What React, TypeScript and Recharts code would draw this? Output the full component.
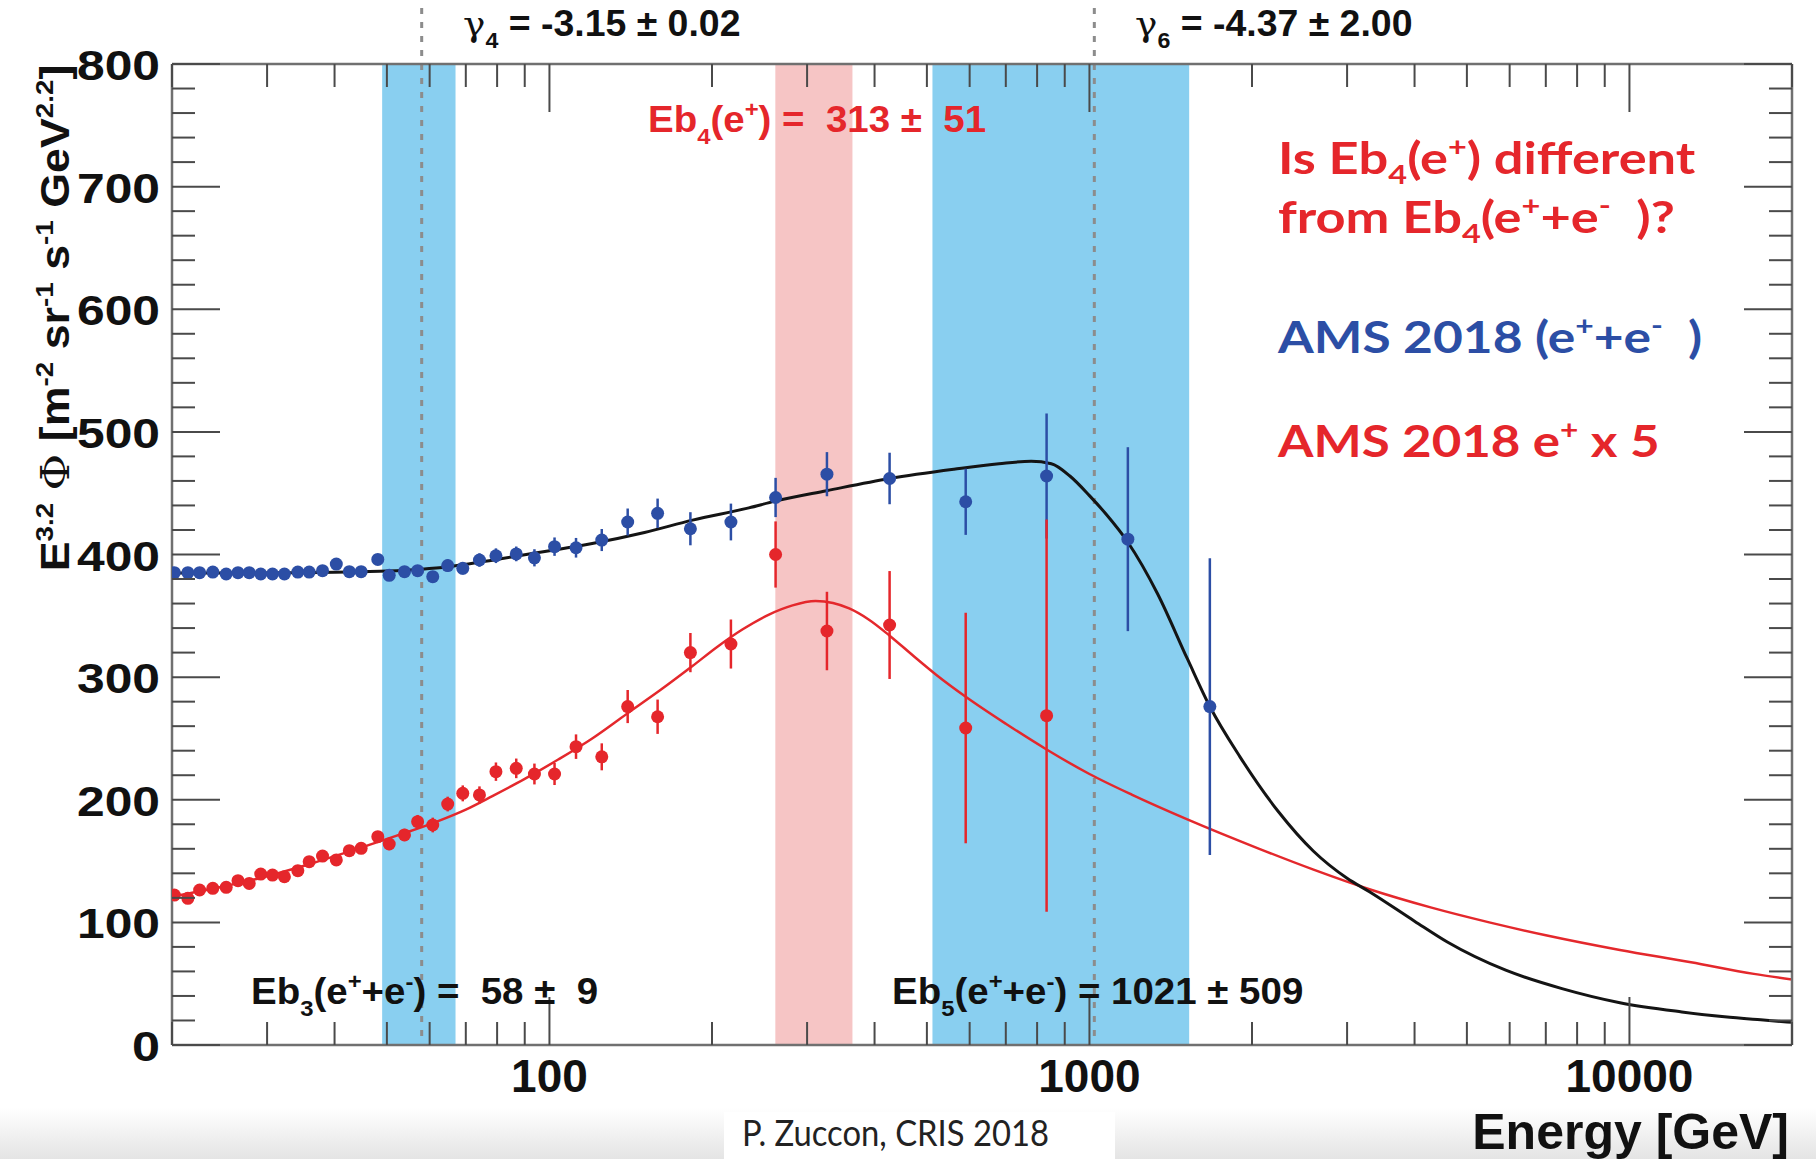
import React from "react";
import {
  ComposedChart,
  XAxis,
  YAxis,
  Scatter,
  ErrorBar,
  Line,
  ReferenceArea,
  ReferenceLine,
} from "recharts";

// energy bins (GeV) shared by both point sets
const binE = [
  20.2, 21.4, 22.5, 23.8, 25.2, 26.5, 27.8, 29.2, 30.7, 32.3, 34.2, 35.9, 38.0,
  40.3, 42.6, 44.8, 48.1, 50.5, 53.9, 57.0, 60.8, 64.8, 69.1, 74.2, 79.6, 86.8,
  93.8, 102.2, 112, 125, 139.6, 158.6, 182.4, 216.8, 262.3, 326.5, 426.5, 590,
  833, 1178, 1671,
];

// AMS 2018 (e+ + e-), E^3.2 * flux
const allFlux = [
  385.2, 385.2, 385.2, 385.7, 384.1, 385.2, 385.2, 384.1, 384.1, 384.1, 385.7,
  385.7, 386.8, 392.2, 386, 386, 396, 383, 386, 386.8, 381.9, 391, 388.7, 395.5,
  399, 400.5, 397.3, 406.4, 405.5, 411.8, 426.5, 433.6, 421, 426.5, 446.5, 465.5,
  462, 443, 464, 412.5, 276,
];
const allErr = [
  3, 3, 3, 3, 3, 3, 3, 3, 3, 3, 3, 3, 3.5, 3.5, 3.5, 4, 4, 4, 4, 4.5, 4.5, 5, 5,
  5.5, 6, 6, 7, 7.5, 8, 9, 11, 12, 13.5, 15, 16, 18, 21, 27, 51, 75, 121,
];

// AMS 2018 e+ x 5
const posFlux = [
  122.3, 119.6, 126.4, 127.8, 128.6, 134, 131.8, 139.4, 138.6, 137.2, 142.2,
  149.5, 154.1, 150.9, 158.5, 160.4, 169.9, 163.9, 171.3, 182.1, 179.4, 196.5,
  205.2, 203.9, 222.9, 225.6, 221, 221, 243.3, 235, 276, 267.7, 320, 327, 400,
  337.6, 342.5, 258.5, 268.6,
];
const posErr = [
  2.5, 2.5, 2.5, 2.5, 3, 3, 3, 3, 3, 3.5, 3.5, 3.5, 4, 4, 4, 4.5, 4.5, 5, 5, 5.5,
  6, 6, 6.5, 7, 7.5, 8, 8.5, 9, 10, 11, 13.5, 14, 16, 20, 27, 32, 44, 94, 160,
];

// fitted curves
const fitAllE = [
  20, 25, 30, 35, 40, 45, 50, 58, 65, 75, 85, 100, 120, 150, 184, 234, 262, 326,
  427, 561, 680, 780, 850, 920, 1000, 1073, 1178, 1337, 1518, 1671, 1900, 2241,
  2600, 3000, 3300, 4000, 4600, 5900, 7500, 9600, 12500, 15000, 17500, 20000,
];
const fitAllV = [
  385, 385, 385, 385.2, 385.5, 386, 386.5, 388, 390, 394, 398, 403, 409, 418,
  428, 438, 443.5, 452, 462, 469.5, 474, 476, 474, 464, 448, 433, 410, 368, 315,
  276, 235, 190, 158, 136, 125, 101, 84, 61, 46, 34.5, 27, 23, 20.5, 18.5,
];
const fitPosE = [
  20, 25, 29, 35, 44.5, 52, 61.7, 70, 78.4, 90, 104, 120, 139, 160, 184, 205,
  228, 255, 282, 311, 335, 359, 390, 426, 470, 520, 590, 700, 833, 1000, 1200,
  1518, 2063, 2600, 3300, 4300, 5500, 7000, 9600, 13000, 17000, 20000,
];
const fitPosV = [
  121, 129.5, 136, 146, 160.5, 170.5, 182, 192, 203, 217, 233, 250, 270, 289,
  309, 325, 339, 351, 358.5, 362, 360.5, 356, 347, 334, 318, 302, 284, 262, 241,
  221, 204, 184, 160, 143, 127, 112, 100, 89.5, 77.5, 67.5, 58, 53.5,
];

// break energies: Eb +- sigma
const eb3 = [49, 67];
const eb4 = [262, 364];
const eb5 = [512, 1530];
const gammaLines = [58, 1021];

const xTicks = [
  20, 30, 40, 50, 60, 70, 80, 90, 100, 200, 300, 400, 500, 600, 700, 800, 900,
  1000, 2000, 3000, 4000, 5000, 6000, 7000, 8000, 9000, 10000, 20000,
];
const xLabels = [100, 1000, 10000];
const yTicks = [
  0, 20, 40, 60, 80, 100, 120, 140, 160, 180, 200, 220, 240, 260, 280, 300, 320,
  340, 360, 380, 400, 420, 440, 460, 480, 500, 520, 540, 560, 580, 600, 620, 640,
  660, 680, 700, 720, 740, 760, 780, 800,
];
const yLabels = [0, 100, 200, 300, 400, 500, 600, 700, 800];

const allData = binE.map((e, i) => ({ e, v: allFlux[i], err: allErr[i] }));
const posData = posFlux.map((v, i) => ({ e: binE[i], v, err: posErr[i] }));
const fitAll = fitAllE.map((e, i) => ({ e, v: fitAllV[i] }));
const fitPos = fitPosE.map((e, i) => ({ e, v: fitPosV[i] }));

const W = 1816;
const H = 1159;
const FRAME = "#707070";
const TICK = "#4a4a4a";
const BLUE = "#2c4ea5";
const RED = "#e5262b";
const SANS = "'Liberation Sans', Arial, sans-serif";
const NOTE = "Lato, 'Open Sans', sans-serif";
const BIG = 48;
const SMALL = 23;

const LeftTick = (p: any) => {
  const v = p.payload.value;
  const major = yLabels.includes(v);
  return (
    <g>
      <line x1={p.x} y1={p.y} x2={p.x + (major ? BIG : SMALL)} y2={p.y} stroke={TICK} strokeWidth={2} />
      {major && (
        <text
          x={p.x - 12}
          y={p.y + 16}
          textAnchor="end"
          fontFamily={SANS}
          fontWeight="bold"
          fontSize={43}
          fill="#111"
          textLength={v === 0 ? 28 : 83}
          lengthAdjust="spacingAndGlyphs"
        >
          {v}
        </text>
      )}
    </g>
  );
};

const RightTick = (p: any) => {
  const major = yLabels.includes(p.payload.value);
  return <line x1={p.x} y1={p.y} x2={p.x - (major ? BIG : SMALL)} y2={p.y} stroke={TICK} strokeWidth={2} />;
};

const BottomTick = (p: any) => {
  const v = p.payload.value;
  const major = xLabels.includes(v);
  return (
    <g>
      <line x1={p.x} y1={p.y} x2={p.x} y2={p.y - (major ? BIG : SMALL)} stroke={TICK} strokeWidth={2} />
      {major && (
        <text x={p.x} y={p.y + 47} textAnchor="middle" fontFamily={SANS} fontWeight="bold" fontSize={46} fill="#111">
          {v}
        </text>
      )}
    </g>
  );
};

const TopTick = (p: any) => {
  const major = xLabels.includes(p.payload.value);
  return <line x1={p.x} y1={p.y} x2={p.x} y2={p.y + (major ? BIG : SMALL)} stroke={TICK} strokeWidth={2} />;
};

const Dot = (color: string) => (p: any) => <circle cx={p.cx} cy={p.cy} r={6.5} fill={color} />;

// dashed line that runs from the top of the canvas down to the x axis
const DashedUp = (p: any) => (
  <line
    x1={p.x1}
    x2={p.x2}
    y1={8}
    y2={Math.max(p.y1, p.y2)}
    stroke="#8c8c8c"
    strokeWidth={3}
    strokeDasharray="6 8"
  />
);

type Seg = { t: string; s?: "sub" | "sup"; w?: string; f?: string };

// text with sub/superscripts; sx stretches it horizontally around (x, y)
const Rich = ({
  segs,
  size,
  x,
  y,
  sx = 1,
  rot = 0,
  sub = 0.32,
  ...rest
}: {
  segs: Seg[];
  size: number;
  x: number;
  y: number;
  sx?: number;
  rot?: number;
  sub?: number;
  [k: string]: any;
}) => {
  let shift = 0;
  return (
    <text
      x={0}
      y={0}
      fontSize={size}
      style={{ whiteSpace: "pre" }}
      transform={`translate(${x} ${y}) rotate(${rot}) scale(${sx} 1)`}
      {...rest}
    >
      {segs.map((g, i) => {
        const target = g.s === "sub" ? size * sub : g.s === "sup" ? -size * 0.4 : 0;
        const dy = target - shift;
        shift = target;
        return (
          <tspan key={i} dy={dy} fontSize={g.s ? size * 0.62 : size} fontWeight={g.w} fontFamily={g.f}>
            {g.t}
          </tspan>
        );
      })}
    </text>
  );
};

const yTitle: Seg[] = [
  { t: "E" },
  { t: "3.2", s: "sup" },
  { t: " " },
  { t: "Φ", w: "normal", f: "'DejaVu Serif', serif" },
  { t: " [m" },
  { t: "-2", s: "sup" },
  { t: " sr" },
  { t: "-1", s: "sup" },
  { t: " s" },
  { t: "-1", s: "sup" },
  { t: " GeV" },
  { t: "2.2", s: "sup" },
  { t: "]" },
];

const gamma = (n: string, rest: string): Seg[] => [
  { t: "γ", w: "normal", f: "'DejaVu Serif', serif" },
  { t: n, s: "sub" },
  { t: rest },
];

export default function App() {
  return (
    <div style={{ position: "absolute", left: 0, top: 0, width: W, height: H, background: "#fff" }}>
      <svg width={W} height={H} style={{ position: "absolute", left: 0, top: 0 }}>
        <defs>
          <linearGradient id="foot" x1="0" y1="0" x2="0" y2="1">
            <stop offset="0" stopColor="#ffffff" />
            <stop offset="1" stopColor="#e4e4e4" />
          </linearGradient>
        </defs>
        <rect x={0} y={1108} width={W} height={H - 1108} fill="url(#foot)" />
        <rect x={724} y={1112} width={391} height={H - 1112} fill="#fff" />
      </svg>

      <div style={{ position: "absolute", left: 0, top: 0 }}>
        <ComposedChart width={W} height={H} margin={{ top: 63, right: 23, bottom: 0, left: 0 }}>
          <XAxis
            xAxisId={0}
            dataKey="e"
            type="number"
            scale="log"
            domain={[20, 20000]}
            allowDataOverflow
            ticks={xTicks}
            interval={0}
            height={114}
            tickSize={0}
            tickMargin={0}
            tick={BottomTick}
            axisLine={{ stroke: FRAME, strokeWidth: 2.5 }}
          />
          <XAxis
            xAxisId="top"
            orientation="top"
            dataKey="e"
            type="number"
            scale="log"
            domain={[20, 20000]}
            allowDataOverflow
            ticks={xTicks}
            interval={0}
            height={1}
            tickSize={0}
            tickMargin={0}
            tick={TopTick}
            axisLine={{ stroke: FRAME, strokeWidth: 2.5 }}
          />
          <YAxis
            yAxisId={0}
            type="number"
            domain={[0, 800]}
            allowDataOverflow
            ticks={yTicks}
            interval={0}
            width={172}
            tickSize={0}
            tickMargin={0}
            tick={LeftTick}
            axisLine={{ stroke: FRAME, strokeWidth: 2.5 }}
          />
          <YAxis
            yAxisId="right"
            orientation="right"
            type="number"
            domain={[0, 800]}
            allowDataOverflow
            ticks={yTicks}
            interval={0}
            width={1}
            tickSize={0}
            tickMargin={0}
            tick={RightTick}
            axisLine={{ stroke: FRAME, strokeWidth: 2.5 }}
          />

          <ReferenceArea x1={eb3[0]} x2={eb3[1]} fill="#89cff0" fillOpacity={1} stroke="none" />
          <ReferenceArea x1={eb4[0]} x2={eb4[1]} fill="#f6c5c5" fillOpacity={1} stroke="none" />
          <ReferenceArea x1={eb5[0]} x2={eb5[1]} fill="#89cff0" fillOpacity={1} stroke="none" />
          {gammaLines.map((e) => (
            <ReferenceLine key={e} x={e} shape={DashedUp} ifOverflow="visible" />
          ))}

          <Line
            data={fitPos}
            dataKey="v"
            type="monotone"
            stroke="#e4282c"
            strokeWidth={2.5}
            dot={false}
            activeDot={false}
            isAnimationActive={false}
          />
          <Line
            data={fitAll}
            dataKey="v"
            type="monotone"
            stroke="#141414"
            strokeWidth={3}
            dot={false}
            activeDot={false}
            isAnimationActive={false}
          />

          <Scatter data={allData} dataKey="v" shape={Dot(BLUE)} isAnimationActive={false}>
            <ErrorBar dataKey="err" direction="y" width={0} stroke={BLUE} strokeWidth={2.5} />
          </Scatter>
          <Scatter data={posData} dataKey="v" shape={Dot(RED)} isAnimationActive={false}>
            <ErrorBar dataKey="err" direction="y" width={0} stroke={RED} strokeWidth={2.5} />
          </Scatter>
        </ComposedChart>
      </div>

      <svg width={W} height={H} style={{ position: "absolute", left: 0, top: 0, pointerEvents: "none" }}>
        <Rich
          segs={yTitle}
          size={40}
          x={69}
          y={318}
          rot={-90}
          sx={1.12}
          textAnchor="middle"
          fontFamily={SANS}
          fontWeight="bold"
          fill="#111"
        />
        <Rich segs={gamma("4", " = -3.15 ± 0.02")} size={36} x={463} y={36} sx={1.04} fontFamily={SANS} fontWeight="bold" fill="#111" />
        <Rich segs={gamma("6", " = -4.37 ± 2.00")} size={36} x={1135} y={36} sx={1.04} fontFamily={SANS} fontWeight="bold" fill="#111" />

        <Rich
          segs={[{ t: "Eb" }, { t: "4", s: "sub" }, { t: "(e" }, { t: "+", s: "sup" }, { t: ") =  313 ±  51" }]}
          size={37}
          x={648}
          y={132}
          sx={1.04}
          fontFamily={SANS}
          fontWeight="bold"
          fill={RED}
        />
        <Rich
          segs={[{ t: "Eb" }, { t: "3", s: "sub" }, { t: "(e" }, { t: "+", s: "sup" }, { t: "+e" }, { t: "-", s: "sup" }, { t: ") =  58 ±  9" }]}
          size={37}
          x={251}
          y={1004}
          sx={1.04}
          fontFamily={SANS}
          fontWeight="bold"
          fill="#111"
        />
        <Rich
          segs={[{ t: "Eb" }, { t: "5", s: "sub" }, { t: "(e" }, { t: "+", s: "sup" }, { t: "+e" }, { t: "-", s: "sup" }, { t: ") = 1021 ± 509" }]}
          size={37}
          x={892}
          y={1004}
          sx={1.04}
          fontFamily={SANS}
          fontWeight="bold"
          fill="#111"
        />

        <Rich
          segs={[{ t: "Is Eb" }, { t: "4", s: "sub" }, { t: "(e" }, { t: "+", s: "sup" }, { t: ") different" }]}
          size={44}
          x={1278}
          y={174}
          sx={1.19}
          sub={0.22}
          fontFamily={NOTE}
          fontWeight="bold"
          fill={RED}
        />
        <Rich
          segs={[{ t: "from Eb" }, { t: "4", s: "sub" }, { t: "(e" }, { t: "+", s: "sup" }, { t: "+e" }, { t: "-", s: "sup" }, { t: "  )?" }]}
          size={44}
          x={1278}
          y={233}
          sx={1.19}
          sub={0.22}
          fontFamily={NOTE}
          fontWeight="bold"
          fill={RED}
        />
        <Rich
          segs={[{ t: "AMS 2018 (e" }, { t: "+", s: "sup" }, { t: "+e" }, { t: "-", s: "sup" }, { t: "  )" }]}
          size={44}
          x={1278}
          y={353}
          sx={1.17}
          fontFamily={NOTE}
          fontWeight="bold"
          fill={BLUE}
        />
        <Rich
          segs={[{ t: "AMS 2018 e" }, { t: "+", s: "sup" }, { t: " x 5" }]}
          size={44}
          x={1278}
          y={457}
          sx={1.16}
          fontFamily={NOTE}
          fontWeight="bold"
          fill={RED}
        />

        <text x={1789} y={1149} textAnchor="end" fontFamily={SANS} fontWeight="bold" fontSize={50} fill="#111">
          Energy [GeV]
        </text>
        <text
          x={742}
          y={1146}
          fontFamily={NOTE}
          fontSize={36}
          fill="#222"
          textLength={307}
          lengthAdjust="spacingAndGlyphs"
        >
          P. Zuccon, CRIS 2018
        </text>
      </svg>
    </div>
  );
}
